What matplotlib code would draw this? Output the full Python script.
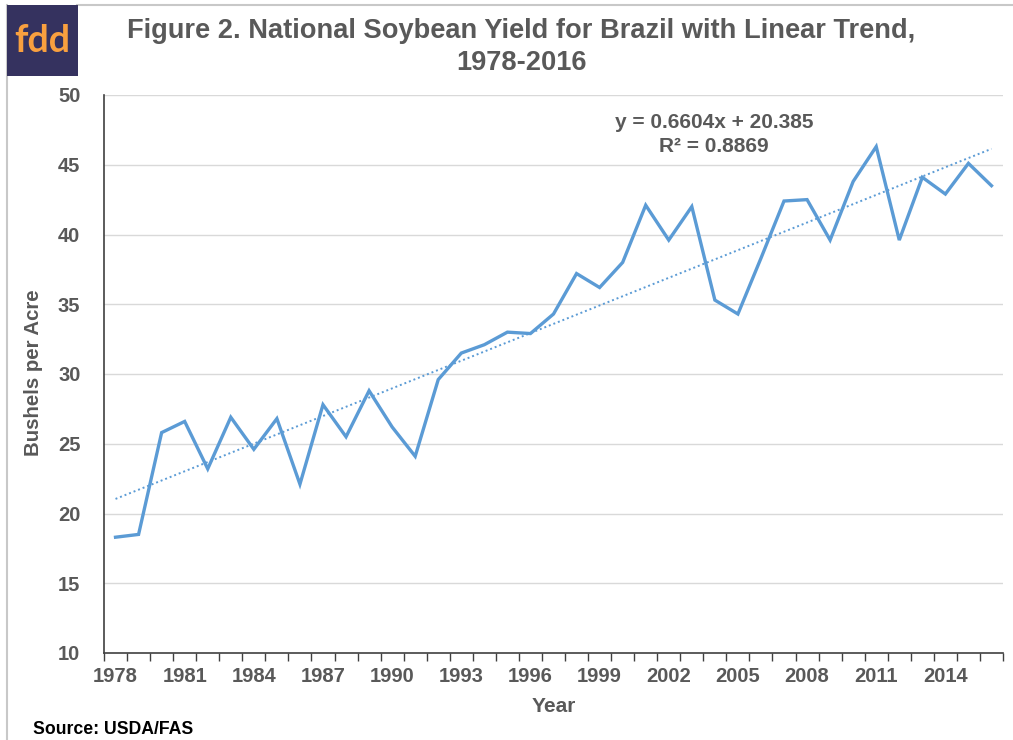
import matplotlib
matplotlib.use("Agg")
import matplotlib.pyplot as plt
import numpy as np
from matplotlib.patches import Rectangle
from matplotlib.lines import Line2D

years = list(range(1978, 2017))
yield_bu = [18.3, 18.5, 25.8, 26.6, 23.2, 26.9, 24.6, 26.8, 22.1, 27.8,
            25.5, 28.8, 26.2, 24.1, 29.6, 31.5, 32.1, 33.0, 32.9, 34.3,
            37.2, 36.2, 38.0, 42.1, 39.6, 42.0, 35.3, 34.3, 38.3, 42.4,
            42.5, 39.6, 43.8, 46.3, 39.6, 44.1, 42.9, 45.1, 43.5]
trend_slope = 0.6604
trend_intercept = 20.385
trend_r2 = 0.8869
y_ticks = [10, 15, 20, 25, 30, 35, 40, 45, 50]
x_label_years = list(range(1978, 2017, 3))

W, H = 1013, 740
plt.rcParams['font.family'] = ['Liberation Sans', 'DejaVu Sans']
fig = plt.figure(figsize=(W / 100, H / 100), dpi=100)
fig.patch.set_facecolor('white')

ax = fig.add_axes([104 / W, 1 - 653 / H, 899 / W, (653 - 95) / H])
x = np.arange(len(years))
line_color = '#5b9bd5'
grey = '#595959'

ax.plot(x, yield_bu, color=line_color, lw=2.4, solid_joinstyle='miter', zorder=3)
trend = trend_slope * (x + 1) + trend_intercept
ax.plot(x, trend, color=line_color, lw=1.4, linestyle=(0, (1, 1.5)), zorder=2)

ax.set_xlim(-0.5, len(years) - 0.5)
ax.set_ylim(10, 50)
ax.set_yticks(y_ticks)
ax.set_yticklabels([str(v) for v in y_ticks], fontsize=14.5, fontweight='bold', color=grey)
ax.tick_params(axis='y', length=0, pad=17)
for v in y_ticks[1:]:
    ax.axhline(v, color='#d9d9d9', lw=1, zorder=1)

ax.set_xticks(np.arange(-0.5, len(years), 1))
ax.set_xticklabels([])
ax.tick_params(axis='x', which='major', length=6, width=1, color='#404040', direction='out')
ax.set_xticks([years.index(y) for y in x_label_years], minor=True)
ax.set_xticklabels([str(y) for y in x_label_years], minor=True, fontsize=14.5,
                   fontweight='bold', color=grey)
ax.tick_params(axis='x', which='minor', length=0, pad=10)

for s in ['top', 'right']:
    ax.spines[s].set_visible(False)
ax.spines['left'].set_color('#404040')
ax.spines['bottom'].set_color('#404040')
ax.spines['left'].set_linewidth(1.2)
ax.spines['bottom'].set_linewidth(1.2)

ax.set_ylabel('Bushels per Acre', fontsize=14.7, fontweight='bold', color=grey)
ax.yaxis.set_label_coords(-(104 - 33) / 899, 1 - (373 - 95) / 558)
ax.yaxis.label.set_va('center')
ax.set_xlabel('Year', fontsize=15, fontweight='bold', color=grey)
ax.xaxis.set_label_coords((554 - 104) / 899, -(706 - 653) / 558)
ax.xaxis.label.set_va('center')

ax.text((714 - 104) / 899, 1 - (123 - 95) / 558, f'y = {trend_slope}x + {trend_intercept}',
        transform=ax.transAxes, ha='center', va='center', fontsize=15, fontweight='bold', color=grey)
ax.text((714 - 104) / 899, 1 - (146 - 95) / 558, f'R² = {trend_r2}',
        transform=ax.transAxes, ha='center', va='center', fontsize=15, fontweight='bold', color=grey)

fig.text(521 / W, 1 - 31 / H, 'Figure 2. National Soybean Yield for Brazil with Linear Trend,',
         ha='center', va='center', fontsize=19.6, fontweight='bold', color=grey)
fig.text(521 / W, 1 - 63 / H, '1978-2016',
         ha='center', va='center', fontsize=19.6, fontweight='bold', color=grey)

fig.text(33 / W, 1 - 730 / H, 'Source: USDA/FAS', ha='left', va='center',
         fontsize=12.7, fontweight='bold', color='black')

# frame lines
fig.add_artist(Line2D([7 / W, 7 / W], [0, 1 - 5 / H], color='#c8c8c8', lw=1.5, transform=fig.transFigure))
fig.add_artist(Line2D([77 / W, 1], [1 - 4.5 / H, 1 - 4.5 / H], color='#c8c8c8', lw=1.5, transform=fig.transFigure))

# logo
fig.patches.append(Rectangle((7 / W, 1 - 76 / H), 71 / W, 71 / H, transform=fig.transFigure,
                             facecolor='#35325f', edgecolor='none', zorder=5))
fig.text(42 / W, 1 - 41 / H, 'fdd', ha='center', va='center', fontsize=27,
         color='#f9a03f', fontfamily='Lato', fontweight='bold', zorder=6)

fig.savefig('out.png', dpi=100, facecolor='white')
